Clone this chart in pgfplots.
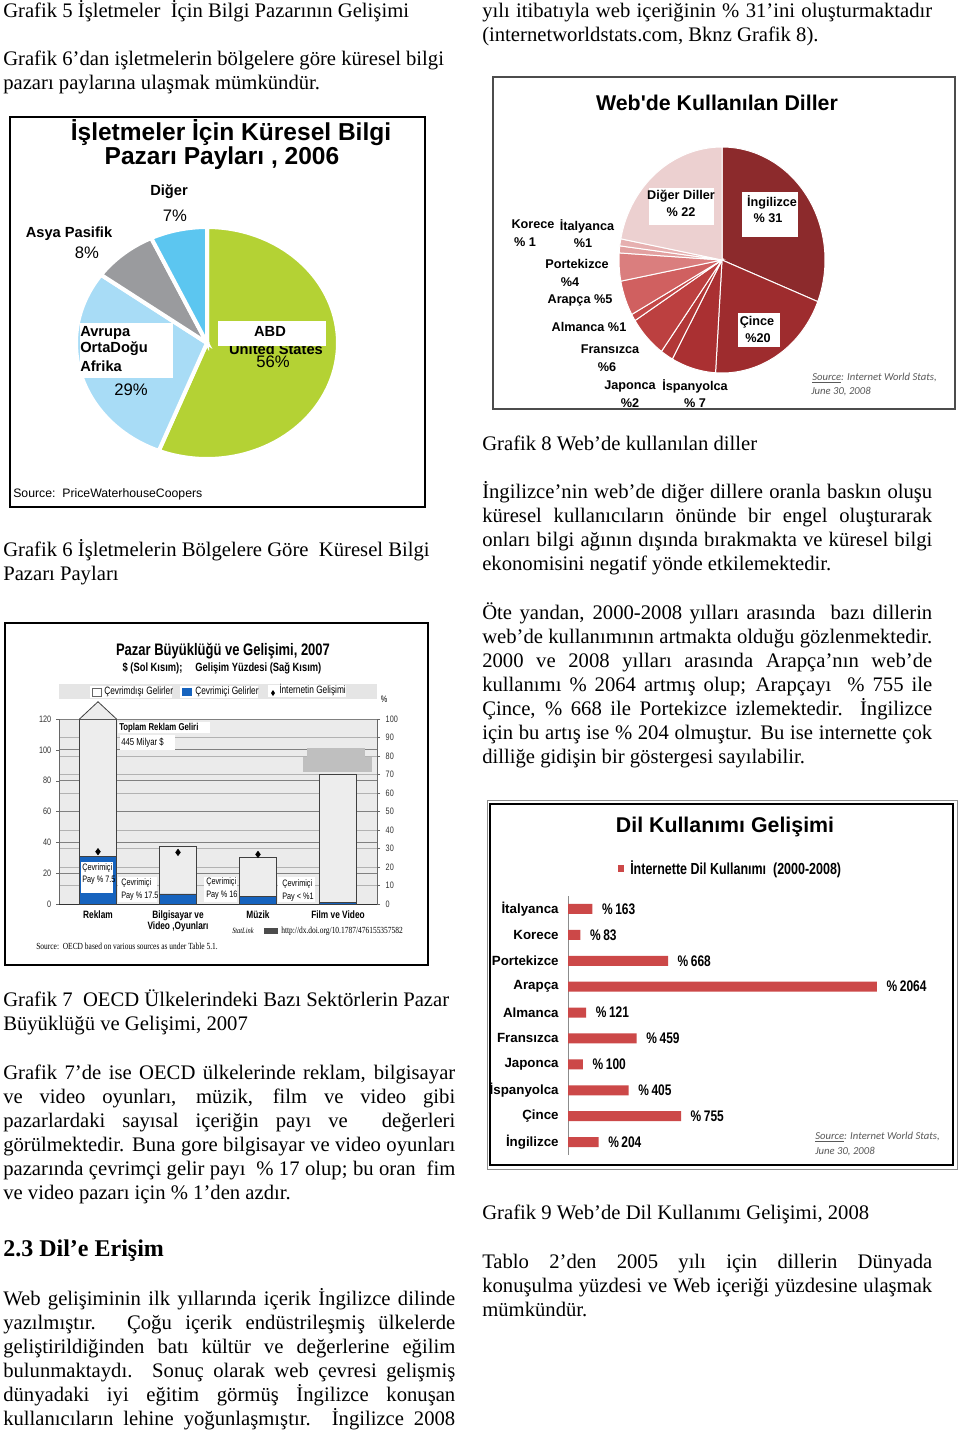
\documentclass[border=0pt]{standalone}
\usepackage{fontspec}
\setmainfont{Liberation Serif}
\usepackage{pgfplots}
\pgfplotsset{compat=1.18}
\newfontfamily\sans{Liberation Sans}
\newfontfamily\narrow[FakeStretch=0.78]{Liberation Sans}
\newfontfamily\narrowserif[FakeStretch=0.8]{Liberation Serif}
\newfontfamily\carl{Carlito}
\newdimen\px \px=0.75pt
\newcommand\fs[1]{\fontsize{#1}{#1}\selectfont}
\newcommand\body{\fs{15.5}}
% text lines of the page
\newcommand\tl[3]{\node[anchor=base west,inner sep=0pt,font=\body] at (#1,-#2) {#3};}
\newcommand\jl[4]{\node[anchor=base west,inner sep=0pt,font=\body] at (#1,-#2) {\makebox[#3\px][s]{#4}};}
\newcommand\lab[4][]{\node[inner sep=0pt,#1] at (#2,-#3) {#4};}

\definecolor{abd}{RGB}{180,210,52}
\definecolor{avrupa}{RGB}{168,220,246}
\definecolor{asya}{RGB}{154,155,158}
\definecolor{diger}{RGB}{92,198,240}
\definecolor{ing}{RGB}{140,42,44}
\definecolor{cin}{RGB}{158,44,46}
\definecolor{isp}{RGB}{170,48,50}
\definecolor{jap}{RGB}{178,55,55}
\definecolor{fra}{RGB}{188,64,64}
\definecolor{alm}{RGB}{196,72,72}
\definecolor{ara}{RGB}{208,96,96}
\definecolor{por}{RGB}{218,126,126}
\definecolor{ita}{RGB}{226,160,160}
\definecolor{kor}{RGB}{230,176,176}
\definecolor{dig}{RGB}{236,208,208}
\definecolor{online}{RGB}{22,99,190}
\definecolor{barred}{RGB}{204,72,72}

\begin{document}
\begin{tikzpicture}[x=0.75pt,y=0.75pt]
\useasboundingbox (0,0) rectangle (960,-1434);
\fill[white] (0,0) rectangle (960,-1434);
% anchor points of the axes, in page pixels
\coordinate (pieA) at (207,-343);
\coordinate (pieB) at (722,-260);
\coordinate (barA) at (59,-719);
\coordinate (barB) at (568,-896);

% ---------------- left column text
\tl{3}{18}{Grafik 5 İşletmeler\ \ İçin Bilgi Pazarının Gelişimi}
\tl{3}{66}{Grafik 6’dan işletmelerin bölgelere göre küresel bilgi}
\tl{3}{90}{pazarı paylarına ulaşmak mümkündür.}
\tl{3}{556}{Grafik 6 İşletmelerin Bölgelere Göre\ \ Küresel Bilgi}
\tl{3}{580}{Pazarı Payları}
\tl{3}{1006}{Grafik 7\ \ OECD Ülkelerindeki Bazı Sektörlerin Pazar}
\tl{3}{1030}{Büyüklüğü ve Gelişimi, 2007}
\jl{3}{1079}{452}{Grafik 7’de ise OECD ülkelerinde reklam, bilgisayar}
\jl{3}{1103}{452}{ve video oyunları, müzik, film ve video gibi}
\jl{3}{1127}{452}{pazarlardaki sayısal içeriğin payı ve\ \ değerleri}
\jl{3}{1151}{452}{görülmektedir. Buna gore bilgisayar ve video oyunları}
\jl{3}{1175}{452}{pazarında çevrimçi gelir payı\ \ \% 17 olup; bu oran\ \ fim}
\tl{3}{1199}{ve video pazarı için \% 1’den azdır.}
\node[anchor=base west,inner sep=0pt,font=\bfseries\fs{18}] at (3,-1256) {2.3 Dil’e Erişim};
\jl{3}{1305}{452}{Web gelişiminin ilk yıllarında içerik İngilizce dilinde}
\jl{3}{1329}{452}{yazılmıştır. Çoğu içerik endüstrileşmiş ülkelerde}
\jl{3}{1353}{452}{geliştirildiğinden batı kültür ve değerlerine eğilim}
\jl{3}{1377}{452}{bulunmaktaydı. Sonuç olarak web çevresi gelişmiş}
\jl{3}{1401}{452}{dünyadaki iyi eğitim görmüş İngilizce konuşan}
\jl{3}{1425}{452}{kullanıcıların lehine yoğunlaşmıştır. İngilizce 2008}

% ---------------- right column text
\jl{482}{18}{450}{yılı itibatıyla web içeriğinin \% 31’ini oluşturmaktadır}
\tl{482}{42}{(internetworldstats.com, Bknz Grafik 8).}
\tl{482}{450}{Grafik 8 Web’de kullanılan diller}
\jl{482}{498}{450}{İngilizce’nin web’de diğer dillere oranla baskın oluşu}
\jl{482}{522}{450}{küresel kullanıcıların önünde bir engel oluşturarak}
\jl{482}{546}{450}{onları bilgi ağının dışında bırakmakta ve küresel bilgi}
\tl{482}{570}{ekonomisini negatif yönde etkilemektedir.}
\jl{482}{619}{450}{Öte yandan, 2000-2008 yılları arasında\ \ bazı dillerin}
\jl{482}{643}{450}{web’de kullanımının artmakta olduğu gözlenmektedir.}
\jl{482}{667}{450}{2000 ve 2008 yılları arasında Arapça’nın web’de}
\jl{482}{691}{450}{kullanımı \% 2064 artmış olup; Arapçayı\ \ \% 755 ile}
\jl{482}{715}{450}{Çince, \% 668 ile Portekizce izlemektedir. İngilizce}
\jl{482}{739}{450}{için bu artış ise \% 204 olmuştur. Bu ise internette çok}
\tl{482}{763}{dilliğe gidişin bir göstergesi sayılabilir.}
\tl{482}{1219}{Grafik 9 Web’de Dil Kullanımı Gelişimi, 2008}
\jl{482}{1268}{450}{Tablo 2’den 2005 yılı için dillerin Dünyada}
\jl{482}{1292}{450}{konuşulma yüzdesi ve Web içeriği yüzdesine ulaşmak}
\tl{482}{1316}{mümkündür.}

% ================= Chart 1: pie, business information market 2006
\draw[black, line width=1.5\px] (10,-117) rectangle (425,-507);
\begin{axis}[at={(pieA)}, anchor=center, scale only axis,
  width=262\px, height=232\px, hide axis, clip=false,
  xmin=-1, xmax=1, ymin=-1, ymax=1]
  % shares in percent, drawn clockwise from 12 o'clock
  \addplot[fill=abd, draw=white, line width=4\px, domain=0:56, samples=90]
    ({cos(90-3.6*x)},{sin(90-3.6*x)}) -- (0,0) -- cycle;
  \addplot[fill=avrupa, draw=white, line width=4\px, domain=56:85, samples=50]
    ({cos(90-3.6*x)},{sin(90-3.6*x)}) -- (0,0) -- cycle;
  \addplot[fill=asya, draw=white, line width=4\px, domain=85:93, samples=20]
    ({cos(90-3.6*x)},{sin(90-3.6*x)}) -- (0,0) -- cycle;
  \addplot[fill=diger, draw=white, line width=4\px, domain=93:100, samples=20]
    ({cos(90-3.6*x)},{sin(90-3.6*x)}) -- (0,0) -- cycle;
\end{axis}
\lab[font=\sans\bfseries\fs{18.4}]{231}{133}{İşletmeler İçin Küresel Bilgi}
\lab[font=\sans\bfseries\fs{18.4}]{222}{158}{Pazarı Payları , 2006}
\lab[font=\sans\bfseries\fs{11}]{169}{192}{Diğer}
\lab[font=\sans\fs{12.5}]{175}{216}{7\%}
\lab[font=\sans\bfseries\fs{11}]{69}{234}{Asya Pasifik}
\lab[font=\sans\fs{12.5}]{87}{253}{8\%}
\fill[white] (80,-323) rectangle (173,-378);
\node[anchor=west,inner sep=0pt,font=\sans\bfseries\fs{11}] at (80,-333) {Avrupa};
\node[anchor=west,inner sep=0pt,font=\sans\bfseries\fs{11}] at (80,-349) {OrtaDoğu};
\node[anchor=west,inner sep=0pt,font=\sans\bfseries\fs{11}] at (80,-366) {Afrika};
\lab[font=\sans\fs{12.5}]{131}{390}{29\%}
\lab[font=\sans\bfseries\fs{11}]{276}{349}{United States}
\fill[white] (218,-321) rectangle (326,-346);
\lab[font=\sans\bfseries\fs{11}]{270}{331}{ABD}
\lab[font=\sans\fs{12.5}]{273}{362}{56\%}
\node[anchor=west,inner sep=0pt,font=\sans\fs{9.2}] at (13,-494) {Source:\ \ PriceWaterhouseCoopers};

% ================= Chart 2: pie, languages on the web
\draw[black!70, line width=1.5\px] (493,-77) rectangle (955,-409);
\begin{axis}[at={(pieB)}, anchor=center, scale only axis,
  width=206\px, height=226\px, hide axis, clip=false,
  xmin=-1, xmax=1, ymin=-1, ymax=1]
  \addplot[fill=ing, draw=white, line width=1\px, domain=0:31, samples=60]
    ({cos(90-3.6*x)},{sin(90-3.6*x)}) -- (0,0) -- cycle;
  \addplot[fill=cin, draw=white, line width=1\px, domain=31:51, samples=40]
    ({cos(90-3.6*x)},{sin(90-3.6*x)}) -- (0,0) -- cycle;
  \addplot[fill=isp, draw=white, line width=1\px, domain=51:58, samples=15]
    ({cos(90-3.6*x)},{sin(90-3.6*x)}) -- (0,0) -- cycle;
  \addplot[fill=jap, draw=white, line width=1\px, domain=58:60, samples=6]
    ({cos(90-3.6*x)},{sin(90-3.6*x)}) -- (0,0) -- cycle;
  \addplot[fill=fra, draw=white, line width=1\px, domain=60:66, samples=12]
    ({cos(90-3.6*x)},{sin(90-3.6*x)}) -- (0,0) -- cycle;
  \addplot[fill=alm, draw=white, line width=1\px, domain=66:67, samples=4]
    ({cos(90-3.6*x)},{sin(90-3.6*x)}) -- (0,0) -- cycle;
  \addplot[fill=ara, draw=white, line width=1\px, domain=67:72, samples=10]
    ({cos(90-3.6*x)},{sin(90-3.6*x)}) -- (0,0) -- cycle;
  \addplot[fill=por, draw=white, line width=1\px, domain=72:76, samples=8]
    ({cos(90-3.6*x)},{sin(90-3.6*x)}) -- (0,0) -- cycle;
  \addplot[fill=ita, draw=white, line width=1\px, domain=76:77, samples=4]
    ({cos(90-3.6*x)},{sin(90-3.6*x)}) -- (0,0) -- cycle;
  \addplot[fill=kor, draw=white, line width=1\px, domain=77:78, samples=4]
    ({cos(90-3.6*x)},{sin(90-3.6*x)}) -- (0,0) -- cycle;
  \addplot[fill=dig, draw=white, line width=1\px, domain=78:100, samples=45]
    ({cos(90-3.6*x)},{sin(90-3.6*x)}) -- (0,0) -- cycle;
\end{axis}
\lab[font=\sans\bfseries\fs{16}]{717}{103}{Web'de Kullanılan Diller}
\fill[white] (649,-188) rectangle (714,-225);
\lab[font=\sans\bfseries\fs{9.5}]{681}{196}{Diğer Diller}
\lab[font=\sans\bfseries\fs{9.5}]{681}{212}{\% 22}
\fill[white] (742,-192) rectangle (798,-237);
\lab[font=\sans\bfseries\fs{9.5}]{772}{202}{İngilizce}
\lab[font=\sans\bfseries\fs{9.5}]{768}{218}{\% 31}
\fill[white] (738,-313) rectangle (780,-347);
\lab[font=\sans\bfseries\fs{9.5}]{757}{322}{Çince}
\lab[font=\sans\bfseries\fs{9.5}]{758}{338}{\%20}
\lab[font=\sans\bfseries\fs{9.5}]{533}{224}{Korece}
\lab[font=\sans\bfseries\fs{9.5}]{525}{242}{\% 1}
\lab[font=\sans\bfseries\fs{9.5}]{587}{226}{İtalyanca}
\lab[font=\sans\bfseries\fs{9.5}]{583}{243}{\%1}
\lab[font=\sans\bfseries\fs{9.5}]{577}{264}{Portekizce}
\lab[font=\sans\bfseries\fs{9.5}]{570}{282}{\%4}
\lab[font=\sans\bfseries\fs{9.5}]{580}{300}{Arapça \%5}
\lab[font=\sans\bfseries\fs{9.5}]{589}{327}{Almanca \%1}
\lab[font=\sans\bfseries\fs{9.5}]{610}{349}{Fransızca}
\lab[font=\sans\bfseries\fs{9.5}]{607}{367}{\%6}
\lab[font=\sans\bfseries\fs{9.5}]{630}{386}{Japonca}
\lab[font=\sans\bfseries\fs{9.5}]{630}{403}{\%2}
\lab[font=\sans\bfseries\fs{9.5}]{695}{386}{İspanyolca}
\lab[font=\sans\bfseries\fs{9.5}]{695}{403}{\% 7}
\node[anchor=west,inner sep=0pt,font=\carl\itshape\fs{8},text=black!65] at (812,-378) {\underline{Source}: Internet World Stats,};
\node[anchor=west,inner sep=0pt,font=\carl\itshape\fs{8},text=black!65] at (811,-392) {June 30, 2008};

% ================= Chart 3: OECD market size bars
\draw[black, line width=2\px] (5,-623) rectangle (428,-965);
\lab[font=\narrow\bfseries\fs{12.5}]{223}{651}{Pazar Büyüklüğü ve Gelişimi, 2007}
\lab[font=\narrow\bfseries\fs{9}]{222}{668}{\$ (Sol Kısım);\ \ \ \ \ Gelişim Yüzdesi (Sağ Kısım)}
\fill[black!10] (59,-684) rectangle (377,-699);
\fill[white] (90,-686) rectangle (172,-698);
\draw[black!60, fill=white] (92,-688) rectangle (101,-696);
\node[anchor=west,inner sep=0pt,font=\narrow\fs{8}] at (104,-692) {Çevrimdışı Gelirler};
\fill[white] (180,-686) rectangle (258,-698);
\fill[online] (182,-688) rectangle (192,-696);
\node[anchor=west,inner sep=0pt,font=\narrow\fs{8}] at (195,-692) {Çevrimiçi Gelirler};
\fill[white] (268,-685) rectangle (346,-697);
\fill[black] (273,-690) -- (275,-693) -- (273,-696) -- (271,-693) -- cycle;
\node[anchor=west,inner sep=0pt,font=\narrow\fs{8}] at (279,-690) {İnternetin Gelişimi};
\lab[font=\narrow\fs{7}]{384}{699}{\%}
% right scale: background and 10 % grid
\begin{axis}[at={(barA)}, anchor=north west, scale only axis,
  width=318\px, height=185\px, enlargelimits=false,
  xmin=0.5125, xmax=4.4875, ymin=0, ymax=100,
  axis background/.style={fill=black!8},
  axis x line=none, axis y line*=right,
  y axis line style={draw=black!60},
  ytick={0,10,...,100}, ymajorgrids,
  major grid style={draw=black!30, line width=0.6\px},
  tick align=outside, major tick length=3\px, ytick style={draw=black!60},
  /pgf/number format/assume math mode=true,
  yticklabel style={font=\narrow\fs{7}, text=black!80, xshift=1\px}]
  \addplot[draw=none] coordinates {(1,0)};
\end{axis}
% left scale: revenues (billion $)
\begin{axis}[at={(barA)}, anchor=north west, scale only axis,
  width=318\px, height=185\px, enlargelimits=false, clip=false,
  xmin=0.5125, xmax=4.4875, ymin=0, ymax=120,
  axis y line*=left, axis x line*=bottom,
  x axis line style={draw=black!80}, y axis line style={draw=black!60},
  ytick={0,20,...,120}, ymajorgrids,
  major grid style={draw=black!50, line width=0.7\px},
  tick align=outside, major tick length=3\px, ytick style={draw=black!60},
  xtick={1,2,3,4}, xtick style={draw=none},
  xticklabels={Reklam,{Bilgisayar ve\\Video ,Oyunları},Müzik,Film ve Video},
  xticklabel style={font=\narrow\bfseries\fs{8}, align=center, yshift=1\px},
  /pgf/number format/assume math mode=true,
  yticklabel style={font=\narrow\fs{7}, text=black!80}]
  % offline (total) revenue
  \addplot[ybar, bar width=37\px, bar shift=0pt, fill=black!7, draw=black!75, line width=0.8\px]
    coordinates {(1,120) (2,37.6) (3,30.3) (4,84.1)};
  % advertising total runs off the scale (445 billion $)
  \addplot[fill=black!7, draw=black!75, line width=0.8\px]
    coordinates {(0.76875,120) (1,131.2) (1.23125,120)};
  % online revenue
  \addplot[ybar, bar width=37\px, bar shift=0pt, fill=online, draw=black!75, line width=0.8\px]
    coordinates {(1,30.7) (2,6.5) (3,4.8) (4,0.9)};
\end{axis}
% right scale: internet growth (%)
\begin{axis}[at={(barA)}, anchor=north west, scale only axis,
  width=318\px, height=185\px, enlargelimits=false, hide axis, clip=false,
  xmin=0.5125, xmax=4.4875, ymin=0, ymax=100]
  \addplot[only marks, mark=diamond*, mark size=3.2\px, black]
    coordinates {(1,28.3) (2,27.9) (3,26.8)};
\end{axis}
\fill[white] (118,-722) rectangle (210,-733);
\node[anchor=west,inner sep=0pt,font=\narrow\bfseries\fs{7.5}] at (119,-727.5) {Toplam Reklam Geliri};
\fill[white] (120,-735) rectangle (175,-750);
\node[anchor=west,inner sep=0pt,font=\narrow\fs{7.5}] at (121,-742.5) {445 Milyar \$};
\fill[black!25] (307,-748) rectangle (365,-757);
\fill[black!25] (303,-757) rectangle (372,-772);
\fill[white] (81,-862) rectangle (113,-893);
\node[anchor=west,inner sep=0pt,font=\narrow\fs{7}] at (82,-868) {Çevrimiçi};
\node[anchor=west,inner sep=0pt,font=\narrow\fs{7}] at (82,-880) {Pay \% 7.5};
\fill[white] (118,-877) rectangle (157,-902);
\node[anchor=west,inner sep=0pt,font=\narrow\fs{7}] at (121,-883) {Çevrimiçi};
\node[anchor=west,inner sep=0pt,font=\narrow\fs{7}] at (121,-896) {Pay \% 17.5};
\fill[white] (204,-877) rectangle (237,-902);
\node[anchor=west,inner sep=0pt,font=\narrow\fs{7}] at (206,-882) {Çevrimiçi};
\node[anchor=west,inner sep=0pt,font=\narrow\fs{7}] at (206,-895) {Pay \% 16};
\fill[white] (278,-877) rectangle (315,-902);
\node[anchor=west,inner sep=0pt,font=\narrow\fs{7}] at (282,-884) {Çevrimiçi};
\node[anchor=west,inner sep=0pt,font=\narrow\fs{7}] at (282,-897) {Pay < \%1};
\node[anchor=west,inner sep=0pt,font=\narrowserif\itshape\fs{6}] at (232,-931) {StatLink};
\fill[black!70] (264,-928) rectangle (278,-934);
\node[anchor=west,inner sep=0pt,font=\narrowserif\fs{7}] at (281,-931) {http://dx.doi.org/10.1787/476155357582};
\node[anchor=west,inner sep=0pt,font=\narrowserif\fs{7}] at (36,-946) {Source:\ \ OECD based on various sources as under Table 5.1.};

% ================= Chart 4: growth of language use 2000-2008
\draw[black!45, line width=1\px] (487,-800) rectangle (957,-1169);
\draw[black, line width=2\px] (490,-804) rectangle (953,-1165);
\lab[font=\sans\bfseries\fs{16}]{725}{827}{Dil Kullanımı Gelişimi}
\fill[barred] (618,-865) rectangle (624,-872);
\node[anchor=west,inner sep=0pt,font=\narrow\bfseries\fs{12}] at (630,-869) {İnternette Dil Kullanımı\ \ (2000-2008)};
\begin{axis}[at={(barB)}, anchor=north west, scale only axis,
  width=372\px, height=259\px, enlargelimits=false, clip=false,
  xmin=0, xmax=2485, ymin=0.5, ymax=10.5, y dir=reverse,
  hide x axis, axis y line*=left,
  y axis line style={draw=black!45, line width=1\px},
  ytick={1,...,10}, ytick style={draw=none},
  yticklabels={İtalyanca,Korece,Portekizce,Arapça,Almanca,Fransızca,Japonca,İspanyolca,Çince,İngilizce},
  yticklabel style={font=\sans\bfseries\fs{10}, anchor=east, xshift=1\px},
  xbar, bar width=10\px,
  point meta=x,
  /pgf/number format/assume math mode=true,
  /pgf/number format/1000 sep={},
  nodes near coords={\%\,\pgfmathprintnumber{\pgfplotspointmeta}},
  nodes near coords style={font=\narrow\bfseries\fs{11.5}, anchor=west, xshift=5\px}]
  \addplot[fill=barred, draw=none] coordinates {
    (163,1) (83,2) (668,3) (2064,4) (121,5) (459,6) (100,7) (405,8) (755,9) (204,10)};
\end{axis}
\node[anchor=west,inner sep=0pt,font=\carl\itshape\fs{8},text=black!65] at (815,-1137) {\underline{Source}: Internet World Stats,};
\node[anchor=west,inner sep=0pt,font=\carl\itshape\fs{8},text=black!65] at (815,-1152) {June 30, 2008};
\end{tikzpicture}
\end{document}
